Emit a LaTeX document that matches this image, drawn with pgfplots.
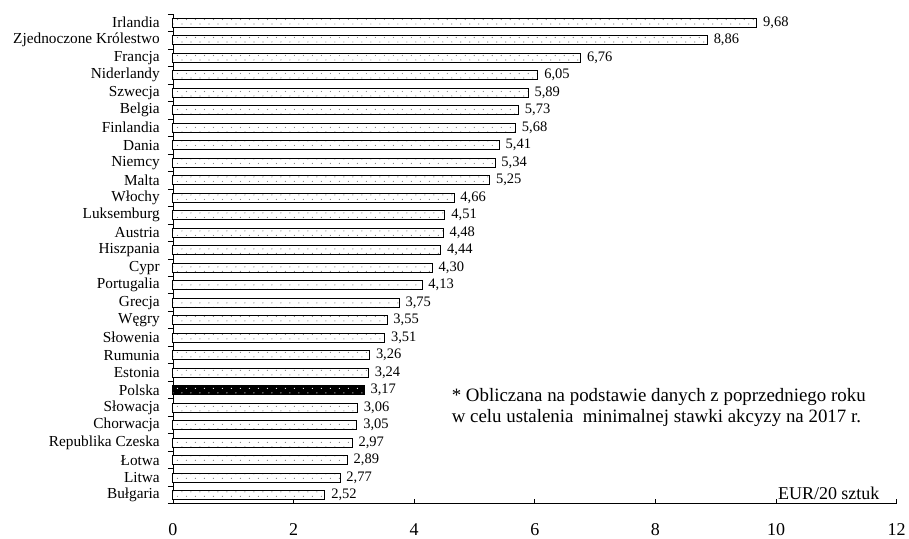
\documentclass[border=0pt]{standalone}
\usepackage{fontspec}
\setmainfont{Liberation Serif}
\usepackage{pgfplots}
\pgfplotsset{compat=1.18}
\usetikzlibrary{patterns,calc}
\pgfdeclarepatternformonly{sdots}{\pgfqpoint{-1pt}{-1pt}}{\pgfqpoint{10pt}{10pt}}{\pgfqpoint{9pt}{9pt}}{%
  \pgfpathcircle{\pgfqpoint{2pt}{2pt}}{0.6pt}\pgfusepath{fill}%
  \pgfpathcircle{\pgfqpoint{6.5pt}{6.5pt}}{0.6pt}\pgfusepath{fill}}
\begin{document}
\begin{tikzpicture}
\begin{axis}[
  xbar, bar width=9pt, bar shift=0pt,
  scale only axis, width=724pt, height=490pt,
  xmin=0, xmax=12, ymin=-0.5, ymax=27.5,
  axis lines=left, axis line style={-, line width=0.8pt},
  clip=false,
  /pgf/number format/assume math mode=true,
  xtick={0,2,...,12},
  tick align=inside, major tick length=5pt, minor tick length=5pt,
  tick style={line width=0.8pt, black},
  ytick={0,...,27},
  minor ytick={-0.5,0.5,...,27.5},
  major y tick style={draw=none},
  minor y tick style={xshift=-5pt},
  yticklabels={Bułgaria,Litwa,Łotwa,Republika Czeska,Chorwacja,Słowacja,Polska,Estonia,Rumunia,Słowenia,Węgry,Grecja,Portugalia,Cypr,Hiszpania,Austria,Luksemburg,Włochy,Malta,Niemcy,Dania,Finlandia,Belgia,Szwecja,Niderlandy,Francja,Zjednoczone Królestwo,Irlandia},
  yticklabel style={font=\fontsize{15.3}{16}\selectfont, inner sep=0pt, xshift=-13pt},
  xticklabel style={font=\fontsize{18}{18}\selectfont, yshift=-16pt},
  nodes near coords={\pgfmathprintnumber[fixed,fixed zerofill,precision=2,use comma,assume math mode=true]{\pgfplotspointmeta}},
  nodes near coords style={font=\fontsize{14.5}{14.5}\selectfont, anchor=west, inner sep=0pt, xshift=6pt},
]
\addplot[draw=black, line width=0.9pt, fill=white, postaction={pattern=sdots, pattern color=gray}] coordinates {
(2.52,0) (2.77,1) (2.89,2) (2.97,3) (3.05,4) (3.06,5) (3.24,7) (3.26,8) (3.51,9) (3.55,10) (3.75,11) (4.13,12) (4.30,13) (4.44,14) (4.48,15) (4.51,16) (4.66,17) (5.25,18) (5.34,19) (5.41,20) (5.68,21) (5.73,22) (5.89,23) (6.05,24) (6.76,25) (8.86,26) (9.68,27)
};
\addplot[draw=black, line width=0.9pt, fill=black, postaction={pattern=sdots, pattern color=white}] coordinates {
(3.17,6)
};
\node[anchor=north west, align=left, font=\fontsize{18.9}{21}\selectfont, inner sep=0pt] at (rel axis cs:0.385,0.237)
  {* Obliczana na podstawie danych z poprzedniego roku\\w celu ustalenia\ \ minimalnej stawki akcyzy na 2017 r.};
\node[anchor=base east, font=\fontsize{18}{18}\selectfont, inner sep=0pt] at (rel axis cs:0.9765,0.008) {EUR/20 sztuk};
\end{axis}
\path ($(current axis.south west)+(-173pt,-32pt)$) rectangle ($(current axis.north east)+(12pt,14pt)$);
\end{tikzpicture}
\end{document}
